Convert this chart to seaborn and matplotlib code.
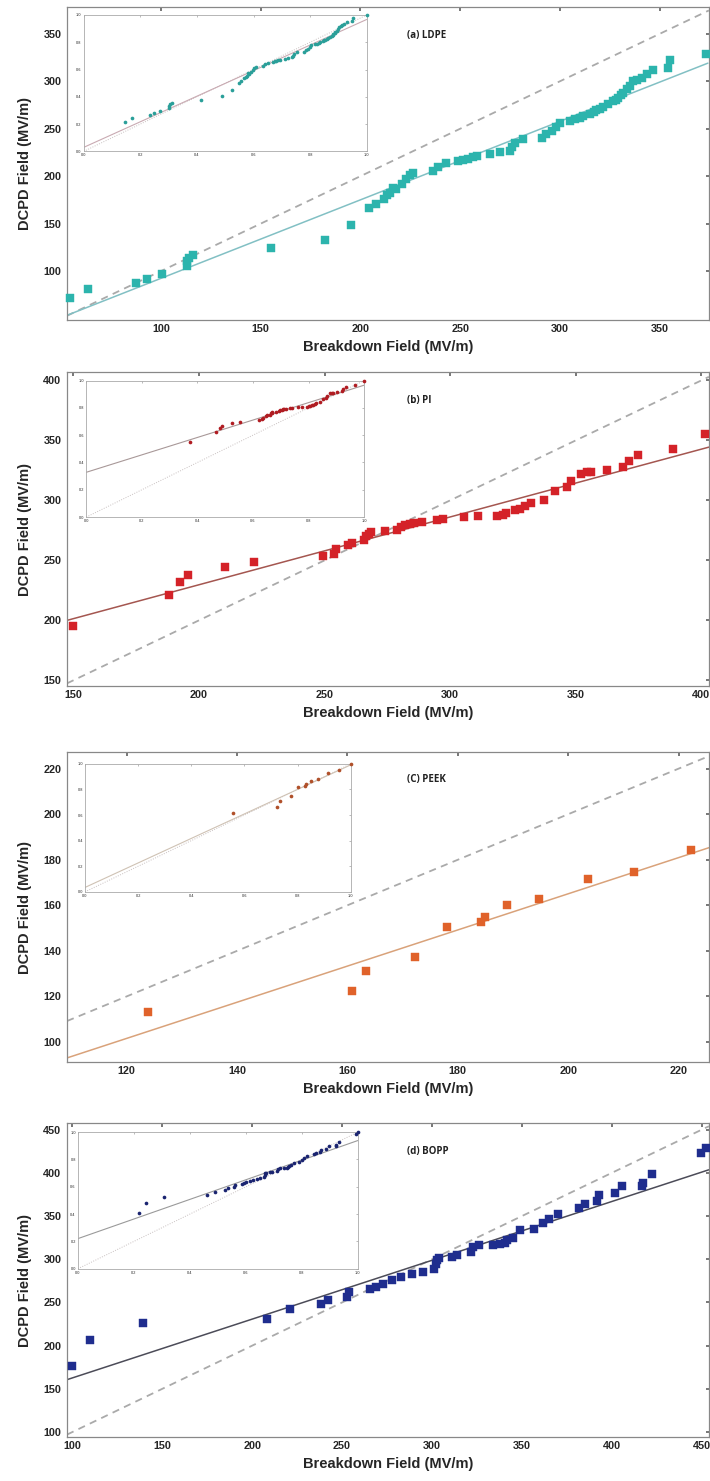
import numpy as np
import matplotlib
matplotlib.use("Agg")
import matplotlib.pyplot as plt
import seaborn as sns

# ---------------------------------------------------------------
# DCPD field vs breakdown field, 4 films (LDPE, PI, PEEK, BOPP)
# values
# ---------------------------------------------------------------

# (a) LDPE
ldpe_x = [54.6, 63.7, 87.5, 93, 100.6, 113, 113, 114, 116, 155, 182, 195,
          204.4, 207.7, 211.7, 213.5, 214.7, 216.4, 218, 221, 223, 224.7, 226.4,
          236.4, 239, 243, 249, 251.5, 254, 256.5, 258.5, 264.8, 269.8, 274.8, 276, 277.5, 281.5,
          290.7, 293, 296, 298, 300, 304.9, 307.5, 310, 311.7, 314.9, 317, 318.2, 320,
          321.6, 324, 326.6, 328, 329, 330.5, 331.6, 333.3, 335, 336.6, 338.5, 340.8, 343.3,
          346.6, 353.8, 355, 373]
ldpe_y = [72, 80.7, 87, 92, 97, 105, 110.5, 114, 117.5, 124, 133, 149,
          166, 170.4, 176.4, 180, 182.7, 188, 186, 191.5, 196.7, 201, 203,
          205.5, 209.7, 213.6, 216, 217, 218, 220.7, 221.5, 223.8, 225.4, 226.5, 231, 235, 239.5,
          240.6, 244, 247.5, 252, 256, 258, 259.8, 261.5, 263.3, 265.8, 267.5, 269.6, 271,
          273.1, 275.6, 279, 280.5, 282.6, 285, 287.2, 291.4, 294.9, 300.1, 301.5, 303.7, 307.2,
          311.7, 314.2, 322.2, 329]
ldpe_fit_x = [53, 374]
ldpe_fit_y = [53.5, 319]

# (b) PI
pi_x = [150, 188, 192.6, 195.6, 210.4, 221.8, 249.4, 253.9, 254.6, 259.3, 261, 265.6,
        266.5, 267.8, 268.7, 274, 279, 280.4, 282.2, 284, 285.8, 289, 294.8, 297.2,
        305.7, 311, 318.8, 321, 322.4, 326, 327.9, 329.7, 332.2, 337.2, 341.7, 346.6,
        348, 352.2, 354.4, 356.2, 362.5, 368.8, 371.1, 374.7, 388.6, 401.3]
pi_y = [195, 220.8, 232, 237.5, 244.4, 248.6, 253.6, 255.6, 259.2, 262.5, 264.7, 266.7,
        270, 272.2, 273.6, 274.4, 275.6, 277.8, 279.7, 280.5, 281.4, 282, 283.3, 284.7,
        286, 287, 287, 288, 289.7, 291.7, 293, 295.3, 298, 300, 307.5, 311,
        315.8, 322.2, 323.6, 324, 325, 327.8, 332.5, 338, 343, 355.6]
pi_fit_x = [147.5, 403]
pi_fit_y = [200, 344.4]

# (c) PEEK
peek_x = [123.9, 160.9, 163.3, 172.3, 178.1, 184.3, 185, 189, 194.7, 203.6, 212, 222.2]
peek_y = [113.1, 122.6, 131.2, 137.2, 150.7, 152.8, 154.7, 160.1, 162.8, 171.5, 174.7, 184.2]
peek_fit_x = [109.2, 225.5]
peek_fit_y = [93, 185.3]

# (d) BOPP
bopp_x = [99.5, 110, 139, 208.3, 221.3, 238, 242.2, 253, 254, 265.7, 268.7, 272.5,
          277.5, 282.5, 288.8, 295, 301, 302, 303, 304, 311, 314, 321.5, 322.8, 326,
          334, 337.9, 340.4, 341.7, 345, 348.7, 356.8, 361.8, 365, 369.9, 381.5, 385,
          392, 392.8, 401.6, 405.9, 416.7, 417.2, 422.3, 449.5, 452.5]
bopp_y = [176, 206, 226.5, 231.2, 242, 248.5, 253.2, 256.3, 262, 266, 267.8, 271.7,
          275.5, 279.4, 282.5, 285.2, 289, 294.8, 299.5, 301.8, 302.5, 304.5, 308.3, 314, 316,
          316, 317.2, 319.1, 321.8, 325, 333.4, 335.3, 341.9, 346.9, 352.7, 359.6, 363.5,
          368, 374, 376.6, 384.3, 384.3, 388.2, 399, 423, 429]
bopp_fit_x = [97, 454]
bopp_fit_y = [160.6, 403.6]

panels = [
    dict(x=ldpe_x, y=ldpe_y, fx=ldpe_fit_x, fy=ldpe_fit_y, label="(a) LDPE",
         color="#2cb4ad", fit="#82c0c4", ifit="#c9aab2", idot="#2a9f99",
         xlim=(53, 374.5), ylim=(48.5, 378), xt=range(100, 351, 50), yt=range(100, 351, 50),
         rect=[0.0944, 0.7839, 0.904, 0.2113], inset=[0.026, 0.539, 0.441, 0.436]),
    dict(x=pi_x, y=pi_y, fx=pi_fit_x, fy=pi_fit_y, label="(b) PI",
         color="#d42228", fit="#a45650", ifit="#a89898", idot="#b01c22",
         xlim=(147.5, 403), ylim=(145.3, 407), xt=range(150, 401, 50), yt=range(150, 401, 50),
         rect=[0.0944, 0.5368, 0.904, 0.2120], inset=[0.030, 0.538, 0.433, 0.435]),
    dict(x=peek_x, y=peek_y, fx=peek_fit_x, fy=peek_fit_y, label="(C) PEEK",
         color="#e0622a", fit="#d9a27a", ifit="#cfc2b4", idot="#b0502a",
         xlim=(109.2, 225.5), ylim=(91.2, 227.3), xt=range(120, 221, 20), yt=range(100, 221, 20),
         rect=[0.0944, 0.2829, 0.904, 0.2093], inset=[0.028, 0.549, 0.414, 0.413]),
    dict(x=bopp_x, y=bopp_y, fx=bopp_fit_x, fy=bopp_fit_y, label="(d) BOPP",
         color="#1f2d8e", fit="#4c4c58", ifit="#9a9a9a", idot="#1a2470",
         xlim=(97, 454), ylim=(94.2, 457.7), xt=range(100, 451, 50), yt=range(100, 451, 50),
         rect=[0.0944, 0.0297, 0.904, 0.2120], inset=[0.017, 0.536, 0.436, 0.435]),
]

sns.set_theme(style="white")
plt.rcParams['font.family'] = ['Liberation Sans', 'DejaVu Sans']

fig = plt.figure(figsize=(7.1, 14.81), dpi=100)

for p in panels:
    ax = fig.add_axes(p['rect'])
    lo, hi = p['xlim']
    # y = x reference
    sns.lineplot(x=[lo, hi], y=[lo, hi], ax=ax, color="#aaaaaa", lw=1.3,
                 linestyle=(0, (4, 3)))
    # fitted line
    sns.lineplot(x=p['fx'], y=p['fy'], ax=ax, color=p['fit'], lw=1.1)
    sns.scatterplot(x=p['x'], y=p['y'], ax=ax, marker='s', s=36, color=p['color'],
                    edgecolor=p['color'], linewidth=0.3, zorder=3, clip_on=False)
    ax.set_xlim(p['xlim'])
    ax.set_ylim(p['ylim'])
    ax.set_xticks(list(p['xt']))
    ax.set_yticks(list(p['yt']))
    ax.tick_params(axis='x', direction='in', top=True, length=3, labelsize=7.8, pad=3,
                   color="#666666")
    ax.tick_params(axis='y', direction='inout', right=True, length=4, labelsize=7.8, pad=2,
                   color="#666666")
    for lab in ax.get_xticklabels() + ax.get_yticklabels():
        lab.set_fontweight('bold')
    for sp in ax.spines.values():
        sp.set_color("#888888")
        sp.set_linewidth(0.9)
    ax.set_xlabel("Breakdown Field (MV/m)", fontsize=10.5, fontweight='bold', labelpad=4)
    ax.set_ylabel("DCPD Field (MV/m)", fontsize=10.5, fontweight='bold', labelpad=8)
    ax.text(0.53, 0.91, p['label'], transform=ax.transAxes, fontsize=7, fontweight='bold',
            family=['Open Sans', 'DejaVu Sans'], va='center', ha='left', color="#222222")

    # inset: normalised values
    xmax, ymax = max(p['x']), max(p['y'])
    nx = np.array(p['x']) / xmax
    ny = np.array(p['y']) / ymax
    k, b = np.polyfit(np.array(p['fx']) / xmax, np.array(p['fy']) / ymax, 1)
    ins = ax.inset_axes(p['inset'])
    ins.set_facecolor('white')
    sns.lineplot(x=[0, 1], y=[0, 1], ax=ins, color="#c8c0c0", lw=0.7, linestyle=(0, (1, 1.5)))
    sns.lineplot(x=[0, 1], y=[b, k + b], ax=ins, color=p['ifit'], lw=0.8)
    sns.scatterplot(x=nx, y=ny, ax=ins, marker='o', s=7, color=p['idot'], linewidth=0,
                    zorder=3, clip_on=False)
    ins.set_xlim(0, 1)
    ins.set_ylim(0, 1)
    ins.set_xticks(np.arange(0, 1.01, 0.2))
    ins.set_yticks(np.arange(0, 1.01, 0.2))
    ins.set_xticklabels([f"{v:.1f}" for v in np.arange(0, 1.01, 0.2)])
    ins.set_yticklabels([f"{v:.1f}" for v in np.arange(0, 1.01, 0.2)])
    ins.tick_params(direction='in', top=True, right=True, length=1.5, labelsize=2.8,
                    pad=1.5, width=0.4, color="#888888")
    for sp in ins.spines.values():
        sp.set_color("#aaaaaa")
        sp.set_linewidth(0.6)

fig.savefig("out.png", dpi=100)
